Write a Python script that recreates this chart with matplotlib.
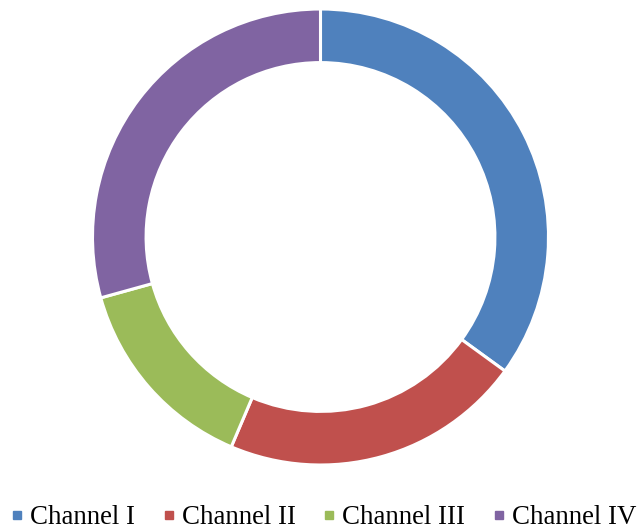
import matplotlib
matplotlib.use("Agg")
import matplotlib.pyplot as plt
from matplotlib.lines import Line2D

categories = ["Channel I", "Channel II", "Channel III", "Channel IV"]
values = [35, 21.4, 14.3, 29.3]
colors = ["#4F81BD", "#C0504D", "#9BBB59", "#8064A2"]

plt.rcParams['font.family'] = ['Liberation Serif', 'DejaVu Serif']

fig = plt.figure(figsize=(6.41, 5.31), dpi=100)
ax = fig.add_axes([0, 0, 1, 1])
W, H = 641, 531
R = 228
ax.pie(values, colors=colors, startangle=90, counterclock=False,
       center=(320.5, H - 237), radius=R,
       wedgeprops=dict(width=R * 0.235, edgecolor="white", linewidth=2.2))
ax.set_xlim(0, W)
ax.set_ylim(0, H)
ax.set_aspect("equal")
ax.axis("off")

handles = [Line2D([], [], marker="s", linestyle="none", markersize=6, color=c)
           for c in colors]
fig.legend(handles, categories, loc="center", bbox_to_anchor=(323 / W, 13 / H),
           ncol=4, frameon=False, fontsize=19.4, handlelength=0.55,
           handletextpad=0.2, columnspacing=0.98, borderaxespad=0, borderpad=0)

fig.savefig("out.png", dpi=100)
